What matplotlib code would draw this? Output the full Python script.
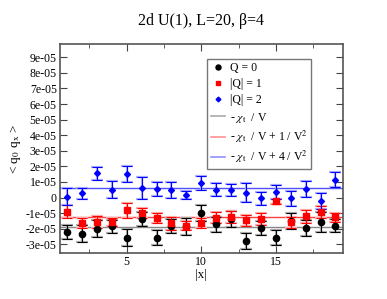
import matplotlib
matplotlib.use("Agg")
import matplotlib.pyplot as plt
import numpy as np
from matplotlib.lines import Line2D
from matplotlib.ticker import FuncFormatter, MultipleLocator

plt.rcParams["font.family"] = ["Liberation Serif", "DejaVu Serif"]
plt.rcParams["mathtext.fontset"] = "stix"

# |x| = 1 .. 19, values in units of 1e-5
xs = np.arange(1, 20)
q0 = [-2.19, -2.32, -2.00, -1.85, -2.56, -1.35, -2.56, -1.85, -1.85, -1.00,
      -1.72, -1.37, -2.78, -1.96, -2.56, -1.52, -1.94, -1.57, -1.79]
q0_err = [0.44, 0.54, 0.54, 0.44, 0.54, 0.45, 0.47, 0.45, 0.57, 0.50,
          0.48, 0.52, 0.50, 0.47, 0.50, 0.50, 0.53, 0.65, 0.43]
q1 = [-0.90, -1.63, -1.55, -1.57, -0.81, -0.98, -1.31, -1.66, -1.80, -1.63,
      -1.29, -1.24, -1.46, -1.37, -0.23, -1.59, -1.20, -0.92, -1.26]
q1_err = [0.41, 0.29, 0.38, 0.27, 0.49, 0.30, 0.33, 0.42, 0.29, 0.32,
          0.36, 0.37, 0.33, 0.40, 0.17, 0.35, 0.40, 0.38, 0.30]
q2 = [0.06, 0.27, 1.55, 0.51, 1.53, 0.60, 0.53, 0.51, 0.16, 0.92,
      0.50, 0.51, 0.32, -0.05, 0.36, -0.05, 0.55, -0.23, 1.14]
q2_err = [0.55, 0.37, 0.44, 0.55, 0.52, 0.71, 0.45, 0.52, 0.28, 0.45,
          0.43, 0.38, 0.60, 0.44, 0.43, 0.48, 0.50, 0.52, 0.47]

chi_over_v = 1.88e-5
inv_v2 = 1.0 / 20**4

scale = 1e-5
fig = plt.figure(figsize=(3.87, 2.99), dpi=100)
ax = fig.add_axes([0.154, 0.154, 0.732, 0.699])

lines = [(-chi_over_v, "#888888", "#aaaaaa", r"- $\chi_{\rm t}$  / V"),
         (-chi_over_v + inv_v2, "#ff4040", "#ff9090", r"- $\chi_{\rm t}$  / V + 1 / V$^2$"),
         (-chi_over_v + 4 * inv_v2, "#5050ff", "#9090ff", r"- $\chi_{\rm t}$  / V + 4 / V$^2$")]
for yv, c, _, _ in lines:
    ax.axhline(yv, color=c, lw=1.0, zorder=1)

sets = [(q0, q0_err, "black", "#b0b0b0", "o", 4.5, "Q = 0"),
        (q1, q1_err, "#ff0000", "#ffb0b0", "s", 4.0, "|Q| = 1"),
        (q2, q2_err, "#0000ff", "#b0b0ff", "D", 3.0, "|Q| = 2")]
handles = []
for vals, errs, c, light, m, ms, lab in sets:
    y = np.array(vals) * scale
    e = np.array(errs) * scale
    ax.errorbar(xs, y, yerr=e, fmt="none", ecolor=light, elinewidth=1.6,
                capsize=4, capthick=1.6, zorder=2)
    ax.errorbar(xs, y, yerr=e, fmt="none", ecolor=c, elinewidth=0.8,
                capsize=3.5, capthick=0.8, zorder=3)
    ax.plot(xs, y, linestyle="none", marker=m, color=c, ms=ms, zorder=4)
    handles.append(Line2D([], [], linestyle="none", marker=m, color=c,
                          ms=ms * 0.8, label=lab))
for _, _, light, lab in lines:
    handles.append(Line2D([], [], color=light, lw=1.2, label=lab))

ax.set_xlim(0.5, 19.5)
ax.set_ylim(-3.55e-5, 0.985e-4)
ax.xaxis.set_major_locator(MultipleLocator(5))
ax.xaxis.set_minor_locator(MultipleLocator(2.5))
ax.yaxis.set_major_locator(MultipleLocator(1e-5))
ax.yaxis.set_major_formatter(FuncFormatter(
    lambda v, p: "0" if abs(v) < 1e-12 else f"{v:.0e}"))
ax.tick_params(which="both", direction="in", top=True, right=True,
               labelsize=8.5, color="#444444", pad=2)
ax.tick_params(which="major", length=5)
ax.tick_params(which="minor", length=3)
for s in ax.spines.values():
    s.set_color("#555555")
    s.set_linewidth(1.2)

ax.set_title("2d U(1), L=20, β=4", fontsize=11.5, pad=14)
ax.set_xlabel("|x|", fontsize=9.5, labelpad=1)
ax.set_ylabel(r"< q$_0$ q$_{\rm x}$ >", fontsize=9.5, labelpad=2)

leg = ax.legend(handles=handles, loc="upper left", bbox_to_anchor=(0.522, 0.93),
                fontsize=8.5, frameon=True, fancybox=False, handlelength=1.2,
                handletextpad=0.4, labelspacing=0.35, borderpad=0.3,
                borderaxespad=0)
leg.get_frame().set_edgecolor("#555555")
leg.get_frame().set_linewidth(1.0)

fig.savefig("out.png", dpi=100)
